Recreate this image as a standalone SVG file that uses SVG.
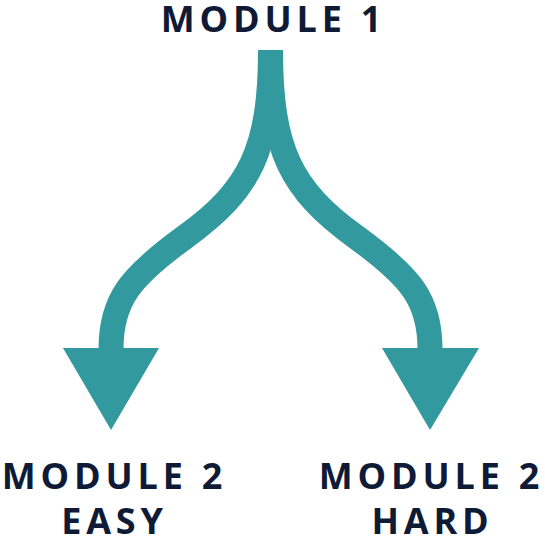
<svg xmlns="http://www.w3.org/2000/svg" width="545" height="545" viewBox="0 0 545 545">
<style>
.lbl{font-family:"Open Sans","Liberation Sans",sans-serif;font-weight:bold;font-size:36px;fill:#0f1b36;letter-spacing:4.8px;text-anchor:middle}
.br{fill:none;stroke:#32999f;stroke-width:25;stroke-linecap:butt}
.hd{fill:#32999f}
</style>
<rect width="545" height="545" fill="#ffffff"/>
<g id="connectors">
<path class="br" d="M270.5,50 C270.5,150 250,190 185,237 C130,277 111,300 111,349"/>
<path class="br" d="M270.5,50 C270.5,150 291,190 356,237 C411,277 430,300 430,349"/>
<polygon class="hd" points="63,348 159,348 111,430"/>
<polygon class="hd" points="382,348 479,348 430,430"/>
</g>
<g id="module1"><text class="lbl" x="273.5" y="32">MODULE 1</text></g>
<g id="module2easy"><text class="lbl" x="114.5" y="489">MODULE 2</text><text class="lbl" x="114.5" y="534">EASY</text></g>
<g id="module2hard"><text class="lbl" x="431.5" y="489">MODULE 2</text><text class="lbl" x="432.5" y="534">HARD</text></g>
</svg>
